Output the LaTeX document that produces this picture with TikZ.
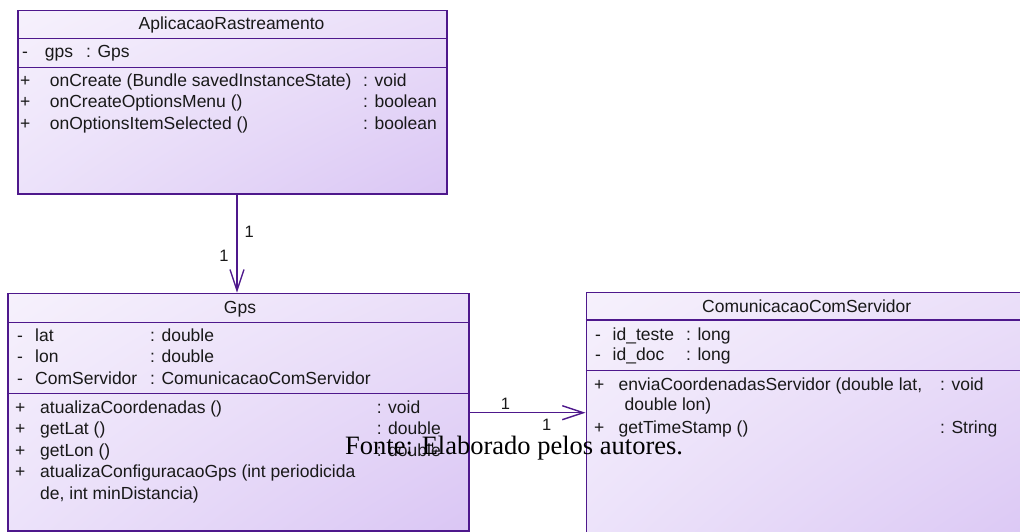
\documentclass[tikz,border=0pt]{standalone}
\usepackage{fontspec}
\newfontfamily\umlfont{Liberation Sans}
\newfontfamily\notefont{Liberation Serif}
\usetikzlibrary{arrows.meta,shadings}

\definecolor{umlline}{RGB}{78,24,140}
\definecolor{filltl}{RGB}{246,241,252}
\definecolor{filltr}{RGB}{234,222,249}
\definecolor{fillbl}{RGB}{236,226,250}
\definecolor{fillbr}{RGB}{218,198,244}
\definecolor{umltext}{RGB}{25,25,25}

\tikzset{
  classbox/.style={draw=umlline, line width=1.5pt, inner sep=0pt, anchor=north west,
    shade, upper left=filltl, upper right=filltr, lower left=fillbl, lower right=fillbr},
  sepline/.style={draw=umlline, line width=1.1pt},
  row/.style={anchor=base west, inner sep=0pt, text=umltext,
    font=\umlfont\fontsize{17.5}{20}\selectfont},
  title/.style={anchor=base, inner sep=0pt, text=umltext,
    font=\umlfont\fontsize{17.5}{20}\selectfont},
  mult/.style={inner sep=0pt, text=umltext, font=\umlfont\fontsize{16.5}{18}\selectfont},
  assoc/.style={draw=umlline, line width=1.4pt,
    -{Straight Barb[length=21pt,width=14pt,line width=1.4pt]}},
}

\begin{document}
\begin{tikzpicture}[x=1pt,y=-1pt]
\useasboundingbox (0,0) rectangle (1020,532);
\clip (0,0) rectangle (1020,532);

% ---------------- AplicacaoRastreamento ----------------
\node[classbox, minimum width=428.7pt, minimum height=183pt] (app) at (17.3,10) {};
\draw[sepline] ([yshift=-28.3pt]app.north west) -- ([yshift=-28.3pt]app.north east);
\draw[sepline] ([yshift=-57.7pt]app.north west) -- ([yshift=-57.7pt]app.north east);
\node[title] (appT) at (231.5,30) {AplicacaoRastreamento};
\node[row] (appA1s) at (22,58) {-};
\node[row] (appA1n) at (44.7,58) {gps};
\node[row] (appA1t) at (86,58) {: Gps};
\node[row] (appM1s) at (20,86.5) {+};
\node[row] (appM1n) at (49.7,86.5) {onCreate (Bundle savedInstanceState)};
\node[row] (appM1t) at (363,86.5) {: void};
\node[row] (appM2s) at (20,108) {+};
\node[row] (appM2n) at (49.7,108) {onCreateOptionsMenu ()};
\node[row] (appM2t) at (363,108) {: boolean};
\node[row] (appM3s) at (20,129.5) {+};
\node[row] (appM3n) at (49.7,129.5) {onOptionsItemSelected ()};
\node[row] (appM3t) at (363,129.5) {: boolean};

% ---------------- Gps ----------------
\node[classbox, minimum width=461pt, minimum height=237.5pt] (gps) at (7.3,292.7) {};
\draw[sepline] ([yshift=-29.6pt]gps.north west) -- ([yshift=-29.6pt]gps.north east);
\draw[sepline] ([yshift=-100.6pt]gps.north west) -- ([yshift=-100.6pt]gps.north east);
\node[title] (gpsT) at (240,313) {Gps};
\node[row] (gpsA1s) at (17,341) {-};
\node[row] (gpsA1n) at (35,341) {lat};
\node[row] (gpsA1t) at (150,341) {: double};
\node[row] (gpsA2s) at (17,362.7) {-};
\node[row] (gpsA2n) at (35,362.7) {lon};
\node[row] (gpsA2t) at (150,362.7) {: double};
\node[row] (gpsA3s) at (17,384.3) {-};
\node[row] (gpsA3n) at (35,384.3) {ComServidor};
\node[row] (gpsA3t) at (150,384.3) {: ComunicacaoComServidor};
\node[row] (gpsM1s) at (15,413) {+};
\node[row] (gpsM1n) at (40,413) {atualizaCoordenadas ()};
\node[row] (gpsM1t) at (376.7,413) {: void};
\node[row] (gpsM2s) at (15,434.5) {+};
\node[row] (gpsM2n) at (40,434.5) {getLat ()};
\node[row] (gpsM2t) at (376.7,434.5) {: double};
\node[row] (gpsM3s) at (15,456) {+};
\node[row] (gpsM3n) at (40,456) {getLon ()};
\node[row] (gpsM3t) at (376.7,456) {: double};
\node[row] (gpsM4s) at (15,477.5) {+};
\node[row] (gpsM4n) at (40,477.5) {atualizaConfiguracaoGps (int periodicida};
\node[row] (gpsM4c) at (40,499) {de, int minDistancia)};

% ---------------- ComunicacaoComServidor ----------------
\node[classbox, minimum width=460pt, minimum height=255pt] (com) at (585.5,291.5) {};
\draw[sepline] ([yshift=-28.5pt]com.north west) -- ([yshift=-28.5pt]com.north east);
\draw[sepline] ([yshift=-79.2pt]com.north west) -- ([yshift=-79.2pt]com.north east);
\node[title] (comT) at (806.7,312.5) {ComunicacaoComServidor};
\node[row] (comA1s) at (595,340) {-};
\node[row] (comA1n) at (612.5,340) {id\_teste};
\node[row] (comA1t) at (686,340) {: long};
\node[row] (comA2s) at (595,360.7) {-};
\node[row] (comA2n) at (612.5,360.7) {id\_doc};
\node[row] (comA2t) at (686,360.7) {: long};
\node[row] (comM1s) at (594,390.7) {+};
\node[row] (comM1n) at (618.5,390.7) {enviaCoordenadasServidor (double lat,};
\node[row] (comM1t) at (940,390.7) {: void};
\node[row] (comM1c) at (624.5,410.7) {double lon)};
\node[row] (comM2s) at (594,433.3) {+};
\node[row] (comM2n) at (618.5,433.3) {getTimeStamp ()};
\node[row] (comM2t) at (940,433.3) {: String};

% ---------------- associations ----------------
\coordinate (vx) at (237,0);
\coordinate (hy) at (0,412.7);
\draw[assoc] (app.south -| vx) -- (gps.north -| vx);
\node[mult] (m1) at (249.3,231.7) {1};
\node[mult] (m2) at (224,256) {1};
\draw[assoc] (gps.east |- hy) -- (com.west |- hy);
\node[mult] (m3) at (505.5,404) {1};
\node[mult] (m4) at (546.7,425) {1};

% ---------------- caption ----------------
\node[anchor=base west, inner sep=0pt, text=black,
      font=\notefont\fontsize{26.5}{30}\selectfont] (fonte) at (345,454.5) {Fonte: Elaborado pelos autores.};
\end{tikzpicture}
\end{document}
